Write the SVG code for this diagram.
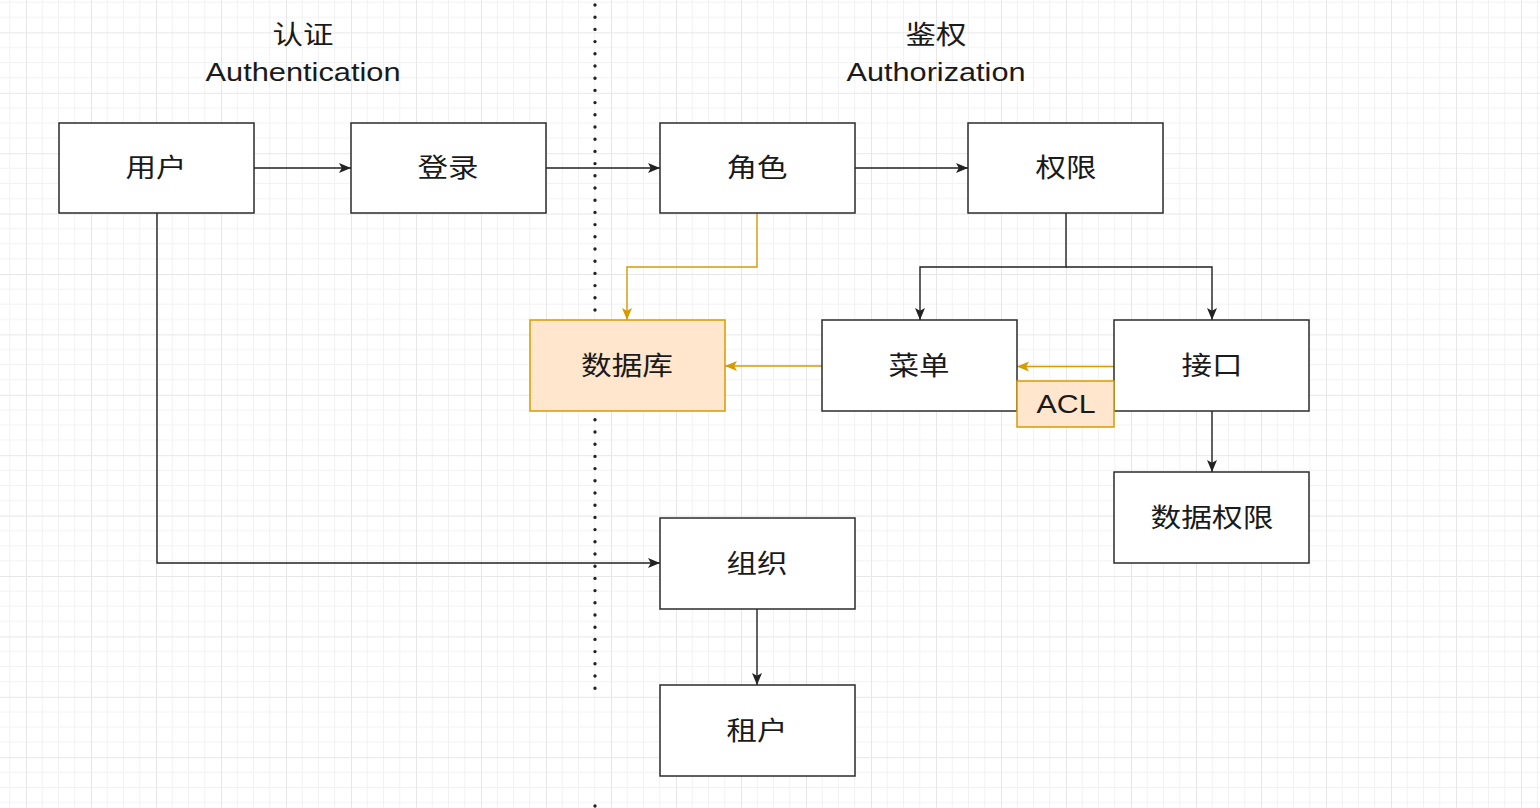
<svg xmlns="http://www.w3.org/2000/svg" width="1540" height="808" viewBox="0 0 1540 808">
<style>
.box{fill:#ffffff;stroke:#2b2b2b;stroke-width:1.5}
.obox{fill:#ffe6cc;stroke:#d79b00;stroke-width:1.5}
.lbl{font-family:"Liberation Sans","Noto Sans CJK SC",sans-serif;font-size:26px;fill:#1a1a1a;text-anchor:middle}
.edge{fill:none;stroke:#222;stroke-width:1.4}
.oedge{fill:none;stroke:#d79b00;stroke-width:1.4}
</style>
<defs>
<pattern id="grid" patternUnits="userSpaceOnUse" x="26" y="32.4" width="65" height="60.4">
<path d="M16.25 0V60.4M32.5 0V60.4M48.75 0V60.4M0 15.1H65M0 30.2H65M0 45.3H65" fill="none" stroke="#f2f2f2" stroke-width="1"/>
<path d="M0.5 0V60.4M0 0.5H65" fill="none" stroke="#e7e7e7" stroke-width="1"/>
</pattern>
<marker id="arr" markerUnits="userSpaceOnUse" markerWidth="13" markerHeight="11" refX="12" refY="5.5" orient="auto">
<path d="M0,0.5 L12,5.5 L0,10.5 L2.8,5.5 Z" fill="#222"/>
</marker>
<marker id="oarr" markerUnits="userSpaceOnUse" markerWidth="13" markerHeight="11" refX="12" refY="5.5" orient="auto">
<path d="M0,0.5 L12,5.5 L0,10.5 L2.8,5.5 Z" fill="#d79b00"/>
</marker>
</defs>
<rect width="1540" height="808" fill="#ffffff"/>
<rect width="1540" height="808" fill="url(#grid)"/>

<path d="M595 5V690M595 806V808" fill="none" stroke="#222" stroke-width="3.4" stroke-linecap="round" stroke-dasharray="0 12.2"/>

<g id="title-authn">
<text class="lbl" x="303" y="44" textLength="61" lengthAdjust="spacingAndGlyphs">认证</text>
<text class="lbl" x="303" y="81" textLength="195" lengthAdjust="spacingAndGlyphs">Authentication</text>
</g>
<g id="title-authz">
<text class="lbl" x="936" y="44" textLength="61" lengthAdjust="spacingAndGlyphs">鉴权</text>
<text class="lbl" x="936" y="81" textLength="179" lengthAdjust="spacingAndGlyphs">Authorization</text>
</g>

<g id="connectors">
<path class="edge" d="M254 168H351" marker-end="url(#arr)"/>
<path class="edge" d="M546 168H660" marker-end="url(#arr)"/>
<path class="edge" d="M855 168H968" marker-end="url(#arr)"/>
<path class="edge" d="M1066 213V267H920V320" marker-end="url(#arr)"/>
<path class="edge" d="M1066 267H1212V320" marker-end="url(#arr)"/>
<path class="edge" d="M1212 411V472" marker-end="url(#arr)"/>
<path class="edge" d="M157 213V563H660" marker-end="url(#arr)"/>
<path class="edge" d="M757 609V685" marker-end="url(#arr)"/>
<path class="oedge" d="M757 213V267H627V320" marker-end="url(#oarr)"/>
<path class="oedge" d="M822 366H725" marker-end="url(#oarr)"/>
<path class="oedge" d="M1114 366.5H1017" marker-end="url(#oarr)"/>
</g>

<g id="node-user">
<rect class="box" x="59" y="123" width="195" height="90"/>
<text class="lbl" x="156" y="177" textLength="61" lengthAdjust="spacingAndGlyphs">用户</text>
</g>
<g id="node-login">
<rect class="box" x="351" y="123" width="195" height="90"/>
<text class="lbl" x="448" y="177" textLength="61" lengthAdjust="spacingAndGlyphs">登录</text>
</g>
<g id="node-role">
<rect class="box" x="660" y="123" width="195" height="90"/>
<text class="lbl" x="757" y="177" textLength="61" lengthAdjust="spacingAndGlyphs">角色</text>
</g>
<g id="node-perm">
<rect class="box" x="968" y="123" width="195" height="90"/>
<text class="lbl" x="1066" y="177" textLength="61" lengthAdjust="spacingAndGlyphs">权限</text>
</g>
<g id="node-db">
<rect class="obox" x="530" y="320" width="195" height="91"/>
<text class="lbl" x="627" y="375" textLength="92" lengthAdjust="spacingAndGlyphs">数据库</text>
</g>
<g id="node-menu">
<rect class="box" x="822" y="320" width="195" height="91"/>
<text class="lbl" x="919" y="375" textLength="61" lengthAdjust="spacingAndGlyphs">菜单</text>
</g>
<g id="node-api">
<rect class="box" x="1114" y="320" width="195" height="91"/>
<text class="lbl" x="1212" y="375" textLength="61" lengthAdjust="spacingAndGlyphs">接口</text>
</g>
<g id="node-acl">
<rect class="obox" x="1017" y="381" width="97" height="46"/>
<text class="lbl" x="1066" y="413" textLength="59" lengthAdjust="spacingAndGlyphs">ACL</text>
</g>
<g id="node-dataperm">
<rect class="box" x="1114" y="472" width="195" height="91"/>
<text class="lbl" x="1212" y="527" textLength="123" lengthAdjust="spacingAndGlyphs">数据权限</text>
</g>
<g id="node-org">
<rect class="box" x="660" y="518" width="195" height="91"/>
<text class="lbl" x="757" y="573" textLength="61" lengthAdjust="spacingAndGlyphs">组织</text>
</g>
<g id="node-tenant">
<rect class="box" x="660" y="685" width="195" height="91"/>
<text class="lbl" x="757" y="740" textLength="61" lengthAdjust="spacingAndGlyphs">租户</text>
</g>
</svg>
